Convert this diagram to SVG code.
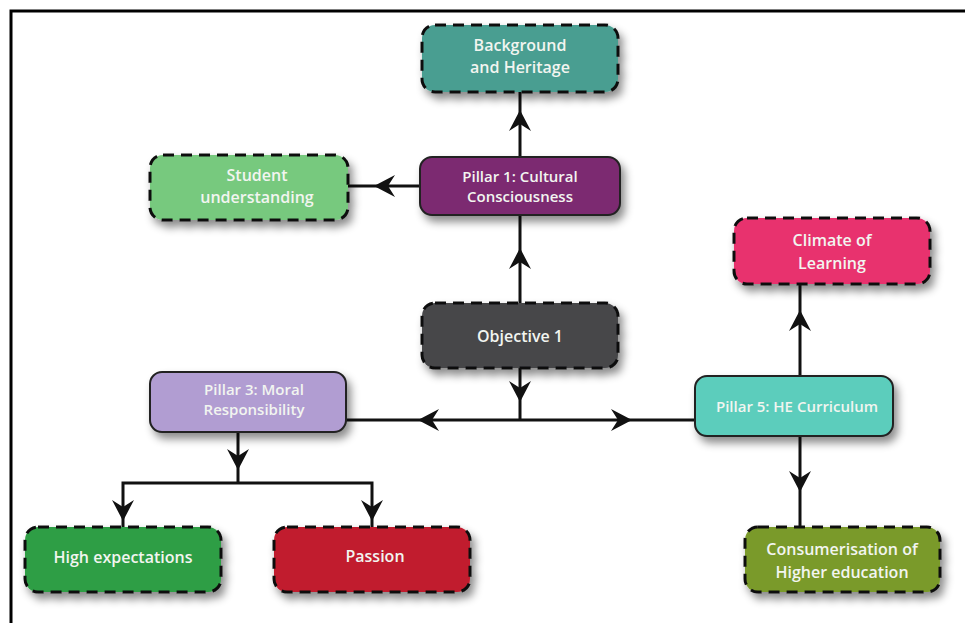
<svg xmlns="http://www.w3.org/2000/svg" xmlns:xlink="http://www.w3.org/1999/xlink" width="965" height="623" viewBox="0 0 965 623">
<style>
.box{stroke:#111;stroke-width:3;}
.dash{stroke-dasharray:11 7;}
.solid{stroke:#222;stroke-width:2;}
.lbl{font-family:"Open Sans","Liberation Sans",sans-serif;font-weight:600;font-size:16px;fill:#f2f5f0;text-anchor:middle;}
.sm{font-size:15px;}
.con{stroke:#111;stroke-width:3;fill:none;}
</style>
<defs>
<filter id="sh" x="-20%" y="-30%" width="150%" height="180%">
<feDropShadow dx="4" dy="6" stdDeviation="4" flood-color="#000" flood-opacity="0.45"/>
</filter>
<path id="ah" d="M0,0 L-11,-21 L0,-14 L11,-21 Z" fill="#111"/>
</defs>
<rect width="965" height="623" fill="#fff"/>
<path d="M11,623 V11 H965" fill="none" stroke="#000" stroke-width="3"/>

<g id="connectors">
<path class="con" d="M520,303 V215"/>
<path class="con" d="M520,157 V92"/>
<path class="con" d="M420,186 H348"/>
<path class="con" d="M520,368 V420"/>
<path class="con" d="M346,420 H695"/>
<path class="con" d="M800,376 V284"/>
<path class="con" d="M800,436 V527"/>
<path class="con" d="M238,432 V483"/>
<path class="con" d="M123,527 V483 H372 V527"/>
<use xlink:href="#ah" transform="translate(520,248) rotate(180)"/>
<use xlink:href="#ah" transform="translate(520,110) rotate(180)"/>
<use xlink:href="#ah" transform="translate(374,186) rotate(90)"/>
<use xlink:href="#ah" transform="translate(520,402)"/>
<use xlink:href="#ah" transform="translate(418,420) rotate(90)"/>
<use xlink:href="#ah" transform="translate(632,420) rotate(-90)"/>
<use xlink:href="#ah" transform="translate(800,310) rotate(180)"/>
<use xlink:href="#ah" transform="translate(800,492)"/>
<use xlink:href="#ah" transform="translate(238,470)"/>
<use xlink:href="#ah" transform="translate(123,521)"/>
<use xlink:href="#ah" transform="translate(372,521)"/>
</g>

<g id="background">
<rect class="box dash" x="422" y="25" width="196" height="67" rx="13" fill="#4a9e91" filter="url(#sh)"/>
<text class="lbl" x="520" y="51">Background</text>
<text class="lbl" x="520" y="73">and Heritage</text>
</g>
<g id="pillar1">
<rect class="solid" x="420" y="157" width="200" height="58" rx="12" fill="#7b2a71" filter="url(#sh)"/>
<text class="lbl sm" x="520" y="182">Pillar 1: Cultural</text>
<text class="lbl sm" x="520" y="202">Consciousness</text>
</g>
<g id="student">
<rect class="box dash" x="150" y="155" width="198" height="65" rx="13" fill="#77c97e" filter="url(#sh)"/>
<text class="lbl" x="257" y="181">Student</text>
<text class="lbl" x="257" y="203">understanding</text>
</g>
<g id="objective1">
<rect class="box dash" x="422" y="303" width="196" height="65" rx="13" fill="#46474a" filter="url(#sh)"/>
<text class="lbl" x="520" y="342">Objective 1</text>
</g>
<g id="climate">
<rect class="box dash" x="734" y="218" width="196" height="66" rx="13" fill="#e8306e" filter="url(#sh)"/>
<text class="lbl" x="832" y="246">Climate of</text>
<text class="lbl" x="832" y="269">Learning</text>
</g>
<g id="pillar5">
<rect class="solid" x="695" y="376" width="198" height="60" rx="12" fill="#5ccdbc" filter="url(#sh)"/>
<text class="lbl sm" x="797" y="412">Pillar 5: HE Curriculum</text>
</g>
<g id="pillar3">
<rect class="solid" x="150" y="372" width="196" height="60" rx="12" fill="#b19dd2" filter="url(#sh)"/>
<text class="lbl sm" x="254" y="395">Pillar 3: Moral</text>
<text class="lbl sm" x="254" y="415">Responsibility</text>
</g>
<g id="high">
<rect class="box dash" x="25" y="527" width="196" height="65" rx="13" fill="#2f9e44" filter="url(#sh)"/>
<text class="lbl" x="123" y="563">High expectations</text>
</g>
<g id="passion">
<rect class="box dash" x="274" y="527" width="196" height="65" rx="13" fill="#c11f2f" filter="url(#sh)"/>
<text class="lbl" x="375" y="562">Passion</text>
</g>
<g id="consumerisation">
<rect class="box dash" x="745" y="527" width="195" height="65" rx="13" fill="#7a9a2c" filter="url(#sh)"/>
<text class="lbl" x="842" y="555">Consumerisation of</text>
<text class="lbl" x="842" y="578">Higher education</text>
</g>
</svg>
